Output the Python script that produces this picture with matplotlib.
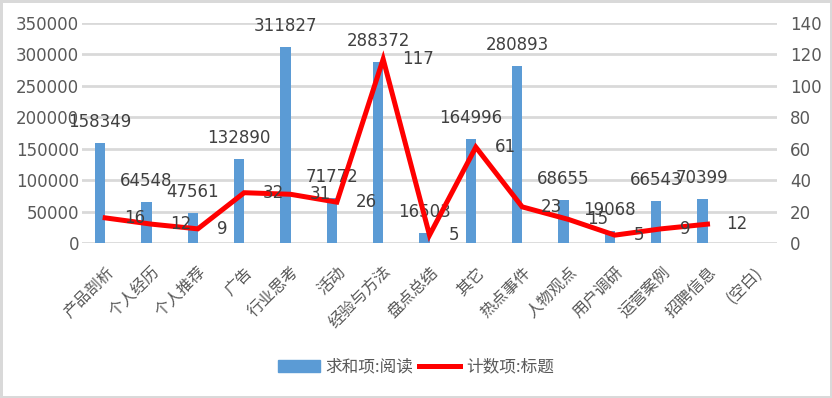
import numpy as np
import matplotlib
matplotlib.use("Agg")
import matplotlib.pyplot as plt
from matplotlib.patches import Patch
from matplotlib.lines import Line2D

plt.rcParams['font.family'] = ['Noto Sans CJK SC', 'DejaVu Sans']

categories = ["产品剖析", "个人经历", "个人推荐", "广告", "行业思考", "活动",
              "经验与方法", "盘点总结", "其它", "热点事件", "人物观点", "用户调研",
              "运营案例", "招聘信息", "(空白)"]
reads = [158349, 64548, 47561, 132890, 311827, 71772, 288372, 16503,
         164996, 280893, 68655, 19068, 66543, 70399]
counts = [16, 12, 9, 32, 31, 26, 117, 5, 61, 23, 15, 5, 9, 12]

bar_color = "#5B9BD5"
text_color = "#595959"
grid_color = "#D9D9D9"
num_font = "DejaVu Sans"

fig = plt.figure(figsize=(8.32, 3.98), dpi=100)
fig.patch.set_edgecolor(grid_color)
fig.patch.set_linewidth(2.5)

ax = fig.add_axes([82/832, 155/398, 695/832, 220/398])
ax2 = ax.twinx()

x = np.arange(len(categories))
xb = x[:len(reads)]
bw = 0.22
ax.bar(xb - bw/2, reads, width=bw, color=bar_color, zorder=2)
for xi, v in zip(xb, reads):
    ax.annotate(str(v), (xi - bw/2, v), xytext=(0, 21), textcoords="offset pixels",
                ha="center", va="center", fontsize=12, color="#404040", family=num_font)

ax2.plot(x[:len(counts)], counts, color="#FF0000", lw=3.6, solid_joinstyle="miter", zorder=3)
for xi, v in zip(x[:len(counts)], counts):
    ax2.annotate(str(v), (xi, v), xytext=(19, 0), textcoords="offset pixels",
                 ha="left", va="center", fontsize=12, color="#404040", family=num_font)

ax.set_xlim(-0.5, len(categories) - 0.5)
ax.set_ylim(0, 350000)
ax.set_yticks(np.arange(0, 350001, 50000))
ax2.set_ylim(0, 140)
ax2.set_yticks(np.arange(0, 141, 20))

ax.yaxis.grid(True, color=grid_color, lw=2, zorder=0)
ax.set_axisbelow(True)
for a in (ax, ax2):
    for s in a.spines.values():
        s.set_visible(False)

ax.tick_params(axis="y", length=0, pad=2, labelsize=12, labelcolor=text_color)
ax2.tick_params(axis="y", length=0, pad=9.5, labelsize=12, labelcolor=text_color)
for lab in ax.get_yticklabels() + ax2.get_yticklabels():
    lab.set_family(num_font)

ax.set_xticks(x)
ax.set_xticklabels(categories, rotation=45, ha="right", rotation_mode="anchor",
                   fontsize=11.5, color=text_color)
ax.tick_params(axis="x", length=0, pad=15)

handles = [Patch(facecolor=bar_color, edgecolor=bar_color),
           Line2D([0], [0], color="#FF0000", lw=3.6)]
fig.legend(handles, ["求和项:阅读", "计数项:标题"], loc="center",
           bbox_to_anchor=(0.5, 1 - 367/398), ncol=2, frameon=False,
           fontsize=12, labelcolor=text_color, handlelength=2.5,
           handleheight=0.7, handletextpad=0.35, columnspacing=0.3)

fig.savefig("out.png", dpi=100)
